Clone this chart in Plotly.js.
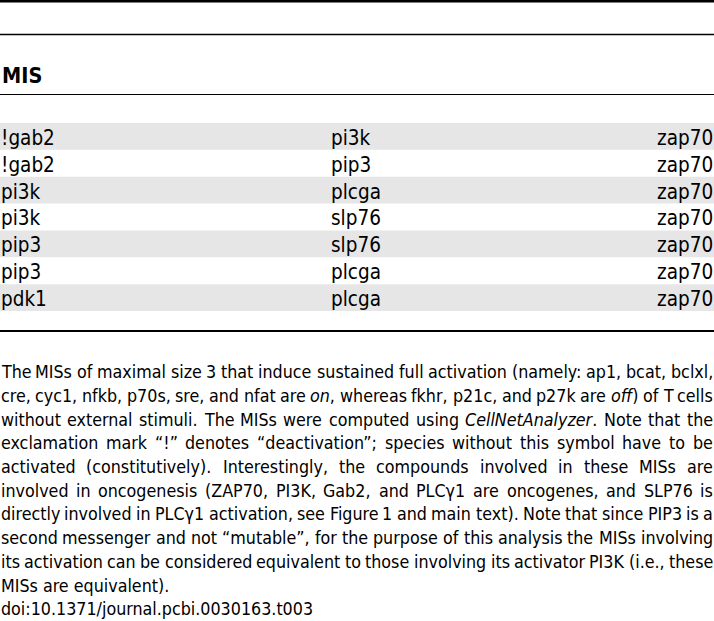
<!DOCTYPE html>
<html><head><meta charset="utf-8">
<script src="https://cdn.plot.ly/plotly-3.0.1.min.js"></script>
<style>html,body{margin:0;padding:0;background:#fff;}#chart{width:714px;height:621px;}</style>
</head><body><div id="chart"></div>
<script>
// ---- data ----
const headerLabel = 'MIS';
const col1 = ['!gab2', '!gab2', 'pi3k', 'pi3k', 'pip3', 'pip3', 'pdk1'];
const col2 = ['pi3k', 'pip3', 'plcga', 'slp76', 'slp76', 'plcga', 'plcga'];
const col3 = ['zap70', 'zap70', 'zap70', 'zap70', 'zap70', 'zap70', 'zap70'];
const captionLines = [
  'The MISs of maximal size 3 that induce sustained full activation (namely: ap1, bcat, bclxl,',
  'cre, cyc1, nfkb, p70s, sre, and nfat are <i>on</i>, whereas fkhr, p21c, and p27k are <i>off</i>) of T cells',
  'without external stimuli. The MISs were computed using <i>CellNetAnalyzer</i>. Note that the',
  'exclamation mark \u201c!\u201d denotes \u201cdeactivation\u201d; species without this symbol have to be',
  'activated (constitutively). Interestingly, the compounds involved in these MISs are',
  'involved in oncogenesis (ZAP70, PI3K, Gab2, and PLC\u03b31 are oncogenes, and SLP76 is',
  'directly involved in PLC\u03b31 activation, see Figure 1 and main text). Note that since PIP3 is a',
  'second messenger and not \u201cmutable\u201d, for the purpose of this analysis the MISs involving',
  'its activation can be considered equivalent to those involving its activator PI3K (i.e., these',
  'MISs are equivalent).',
  'doi:10.1371/journal.pcbi.0030163.t003'
];
const captionJustified = [true, true, true, true, true, true, true, true, true, false, false];

// ---- font helpers ----
const ctx = document.createElement('canvas').getContext('2d');
function hasFont(name) {
  const t = 'mmmmmmmmmmlliWWWiii0123';
  for (const base of ['monospace', 'serif']) {
    ctx.font = '72px ' + base; const a = ctx.measureText(t).width;
    ctx.font = '72px "' + name + '", ' + base; const b = ctx.measureText(t).width;
    if (Math.abs(a - b) > 0.5) return true;
  }
  return false;
}
const candidates = ['Liberation Sans Narrow', 'DejaVu Sans Condensed', 'Roboto Condensed', 'Open Sans Condensed', 'Liberation Sans', 'Roboto'];
const FAMILY = candidates.find(hasFont) || 'sans-serif';
function meas(txt, size, italic, bold) {
  ctx.font = (italic ? 'italic ' : '') + (bold ? 'bold ' : '') + size + 'px "' + FAMILY + '"';
  return ctx.measureText(txt).width;
}
function measWord(w, size) {
  let total = 0, last = 0, m; const re = /<i>(.*?)<\/i>/g;
  while ((m = re.exec(w))) { total += meas(w.slice(last, m.index), size, false); total += meas(m[1], size, true); last = re.lastIndex; }
  return total + meas(w.slice(last), size, false);
}

// ---- sizes derived from measured reference widths ----
const W = 713;
let capSize = 318 / meas(captionLines[10], 100) * 100;
captionLines.forEach((l, i) => {
  if (captionJustified[i]) {
    const n = l.split(' ').length;
    const nat = l.split(' ').reduce((s, w) => s + measWord(w, 100), 0) + meas(' ', 100) * 0.85 * (n - 1);
    capSize = Math.min(capSize, (W - 1) / nat * 100);
  }
});
const rowSize = 1.1 * (48 + 46.5 + 51) / (meas('!gab2', 100) + meas('plcga', 100) + meas('zap70', 100)) * 100;
const headSize = 1.12 * 36 / meas(headerLabel, 100, false, true) * 100;

// ---- annotations ----
const ann = [];
const BASE = 0.35; // baseline offset from middle, in em
ann.push({ text: '<b>' + headerLabel + '</b>', x: 1.5, y: 83.5 - BASE * headSize, xref: 'x', yref: 'y', xanchor: 'left', yanchor: 'middle',
  showarrow: false, borderpad: 0, borderwidth: 0, font: { family: FAMILY, size: headSize, color: '#000' } });
const rowFont = { family: FAMILY, size: rowSize, color: '#000' };
const rowShift = BASE * rowSize - 8.6;
col1.forEach((t, i) => ann.push({ text: t, x: 0.5, y: i, xref: 'x', yref: 'y2', xanchor: 'left', yanchor: 'middle', yshift: rowShift, showarrow: false, borderpad: 0, borderwidth: 0, font: rowFont }));
col2.forEach((t, i) => ann.push({ text: t, x: 331, y: i, xref: 'x', yref: 'y2', xanchor: 'left', yanchor: 'middle', yshift: rowShift, showarrow: false, borderpad: 0, borderwidth: 0, font: rowFont }));
col3.forEach((t, i) => ann.push({ text: t, x: 713, y: i, xref: 'x', yref: 'y2', xanchor: 'right', yanchor: 'middle', yshift: rowShift, showarrow: false, borderpad: 0, borderwidth: 0, font: rowFont }));

const capFont = { family: FAMILY, size: capSize, color: '#000' };
captionLines.forEach((line, k) => {
  const yc = 378.5 + 23.7 * k - BASE * capSize;
  if (!captionJustified[k]) {
    ann.push({ text: line, x: 0.5, y: yc, xref: 'x', yref: 'y', xanchor: 'left', yanchor: 'middle', showarrow: false, borderpad: 0, borderwidth: 0, font: capFont });
    return;
  }
  const words = line.split(' ');
  const widths = words.map(w => measWord(w, capSize));
  const gap = (W - 0.5 - widths.reduce((a, b) => a + b, 0)) / (words.length - 1);
  let x = 0.5;
  words.forEach((w, j) => {
    ann.push({ text: w, x: x, y: yc, xref: 'x', yref: 'y', xanchor: 'left', yanchor: 'middle', showarrow: false, borderpad: 0, borderwidth: 0, font: capFont });
    x += widths[j] + gap;
  });
});

// ---- traces: shaded rows ----
const rowIdx = col1.map((_, i) => i);
const shaded = rowIdx.filter(i => i % 2 === 0);
const traces = [{
  type: 'bar', orientation: 'h', xaxis: 'x', yaxis: 'y2',
  y: shaded, x: shaded.map(() => 714), base: 0, width: 1,
  marker: { color: '#e6e6e6', line: { width: 0 } }, hoverinfo: 'skip', showlegend: false
}];

const shapes = [
  { type: 'line', xref: 'x', yref: 'y', x0: 0, x1: 714, y0: 1.3, y1: 1.3, line: { color: '#000', width: 2.6 } },
  { type: 'line', xref: 'x', yref: 'y', x0: 0, x1: 714, y0: 34.5, y1: 34.5, line: { color: '#000', width: 1.6 } },
  { type: 'line', xref: 'x', yref: 'y', x0: 0, x1: 714, y0: 94.5, y1: 94.5, line: { color: '#000', width: 1.1 } },
  { type: 'line', xref: 'x', yref: 'y', x0: 0, x1: 714, y0: 331, y1: 331, line: { color: '#000', width: 1.8 } }
];

const layout = {
  width: 714, height: 621, autosize: false,
  margin: { l: 0, r: 0, t: 0, b: 0, pad: 0 },
  paper_bgcolor: '#fff', plot_bgcolor: '#fff', showlegend: false,
  xaxis: { range: [0, 714], visible: false, fixedrange: true },
  yaxis: { range: [621, 0], visible: false, fixedrange: true },
  yaxis2: { domain: [(621 - 311) / 621, (621 - 123) / 621], range: [6.5, -0.5], visible: false, anchor: 'x', fixedrange: true },
  shapes: shapes, annotations: ann
};
Plotly.newPlot('chart', traces, layout, { staticPlot: true, displayModeBar: false });
</script></body></html>
